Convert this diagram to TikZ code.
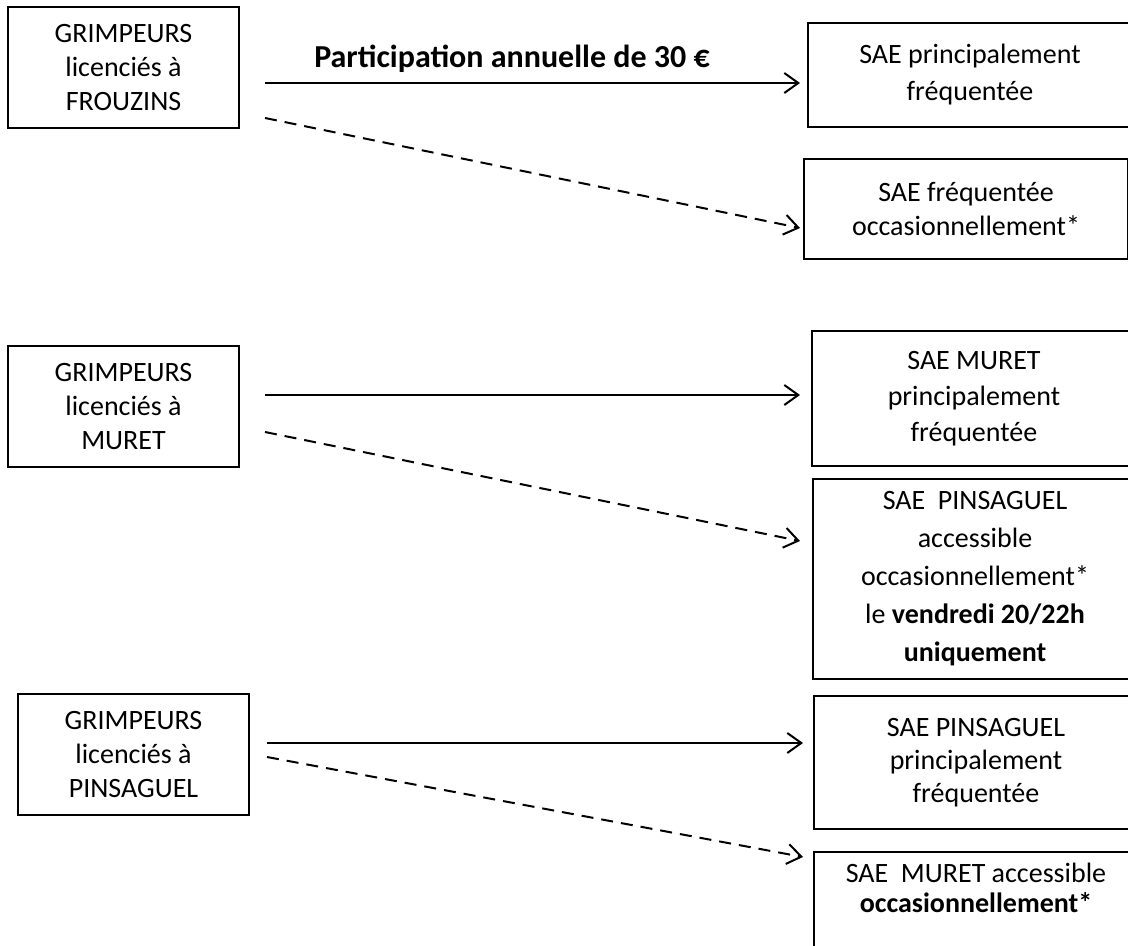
\documentclass[tikz,border=0pt]{standalone}
\usepackage{fontspec}
\setmainfont{Carlito}
\usetikzlibrary{arrows.meta}

\begin{document}
\begin{tikzpicture}[x=0.5pt, y=-0.5pt,
        box/.style={draw, line width=0.8pt, anchor=north west, align=center, inner sep=0pt,
            outer sep=0pt, font=\fontsize{14}{17}\selectfont},
        club/.style={box, minimum width=115.5pt, minimum height=60.5pt},
        sae/.style={box, minimum width=162pt},
        main/.style={line width=1pt, -{Straight Barb[length=7pt,width=10pt]}},
        occas/.style={main, dash pattern=on 6pt off 4pt}]
        \clip (0,0) rectangle (1128,946);
        % clubs
        \node[club] (frouzins) at (8,7) {GRIMPEURS\\licenciés à\\FROUZINS};
        \node[club] (muret) at (8,346) {GRIMPEURS\\licenciés à\\MURET};
        \node[club] (pinsaguel) at (18,694) {GRIMPEURS\\licenciés à\\PINSAGUEL};
        % SAE
        \node[sae, minimum height=52pt, font=\fontsize{14}{18.5}\selectfont] (saeF1) at (808,23)
            {SAE principalement\\fréquentée};
        \node[sae, minimum height=50pt] (saeF2) at (804,159)
            {SAE fréquentée\\occasionnellement*};
        \node[sae, minimum height=67.5pt, font=\fontsize{14}{18}\selectfont] (saeM1) at (812,331)
            {SAE MURET\\principalement\\fréquentée};
        \node[sae, minimum height=100pt, font=\fontsize{14}{19}\selectfont] (saeM2) at (813,479)
            {SAE~~PINSAGUEL\\accessible\\occasionnellement*\\le \textbf{vendredi 20/22h}\\\textbf{uniquement}};
        \node[sae, minimum height=66.5pt, font=\fontsize{14}{16.5}\selectfont] (saeP1) at (814,696)
            {SAE PINSAGUEL\\principalement\\fréquentée};
        \node[sae, inner ysep=5.5pt, font=\fontsize{14}{15}\selectfont] (saeP2) at (814,852)
            {SAE~~MURET accessible\\\textbf{occasionnellement*}\\[20pt]\strut};
        % arrows
        \coordinate (fout1) at (265,83);  \coordinate (fin1) at (800,83);
        \coordinate (fout2) at (265,118); \coordinate (fin2) at (800,228);
        \coordinate (mout1) at (265,395); \coordinate (min1) at (800,395);
        \coordinate (mout2) at (265,432); \coordinate (min2) at (800,541);
        \coordinate (pout1) at (267,743); \coordinate (pin1) at (803,743);
        \coordinate (pout2) at (267,757); \coordinate (pin2) at (803,857);
        \draw[main] (fout1) -- (fin1);
        \draw[occas] (fout2) -- (fin2);
        \draw[main] (mout1) -- (min1);
        \draw[occas] (mout2) -- (min2);
        \draw[main] (pout1) -- (pin1);
        \draw[occas] (pout2) -- (pin2);
        \node[anchor=base, font=\bfseries\fontsize{16}{19}\selectfont] (fee) at (512,68)
            {Participation annuelle de 30 €};
    \end{tikzpicture}
\end{document}
